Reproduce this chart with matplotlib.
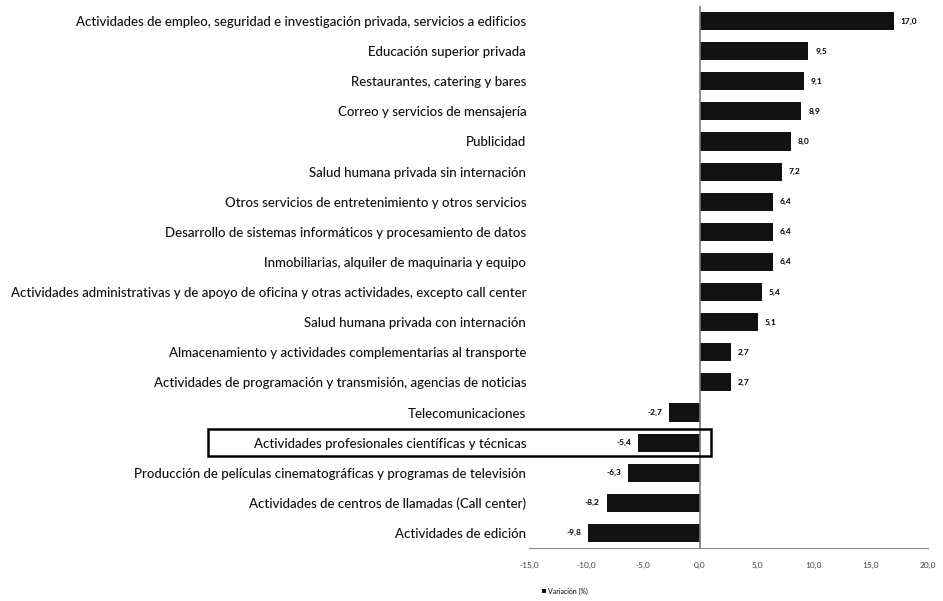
import matplotlib
matplotlib.use("Agg")
import matplotlib.pyplot as plt
from matplotlib.patches import Rectangle

categories = [
    "Actividades de empleo, seguridad e investigación privada, servicios a edificios",
    "Educación superior privada",
    "Restaurantes, catering y bares",
    "Correo y servicios de mensajería",
    "Publicidad",
    "Salud humana privada sin internación",
    "Otros servicios de entretenimiento y otros servicios",
    "Desarrollo de sistemas informáticos y procesamiento de datos",
    "Inmobiliarias, alquiler de maquinaria y equipo",
    "Actividades administrativas y de apoyo de oficina y otras actividades, excepto call center",
    "Salud humana privada con internación",
    "Almacenamiento y actividades complementarias al transporte",
    "Actividades de programación y transmisión, agencias de noticias",
    "Telecomunicaciones",
    "Actividades profesionales científicas y técnicas",
    "Producción de películas cinematográficas y programas de televisión",
    "Actividades de centros de llamadas (Call center)",
    "Actividades de edición",
]
values = [17.0, 9.5, 9.1, 8.9, 8.0, 7.2, 6.4, 6.4, 6.4, 5.4, 5.1, 2.7, 2.7,
          -2.7, -5.4, -6.3, -8.2, -9.8]
xticks = [-15, -10, -5, 0, 5, 10, 15, 20]
highlight = "Actividades profesionales científicas y técnicas"
legend_label = "Variación (%)"

plt.rcParams['font.family'] = ['Lato', 'DejaVu Sans']

fig = plt.figure(figsize=(9.43, 6.01), dpi=100)
ax = fig.add_axes([529/943, 1-548/601, (928-529)/943, (548-6)/601])

n = len(categories)
ypos = list(range(n))[::-1]
bars = ax.barh(ypos, values, height=0.6, color="#111111", label=legend_label, zorder=2)

ax.set_xlim(-15, 20)
ax.set_ylim(-0.5, n - 0.5)
ax.set_xticks(xticks)
ax.set_xticklabels([f"{t:.1f}".replace(".", ",") for t in xticks], fontsize=6, color="#444444")
ax.set_yticks(ypos)
ax.set_yticklabels(categories, fontsize=9.5, color="#111111", fontweight="medium")
ax.tick_params(axis="y", length=0, pad=2)
ax.tick_params(axis="x", length=0, pad=10)

for s in ["top", "right", "left"]:
    ax.spines[s].set_visible(False)
ax.spines["bottom"].set_color("#888888")
ax.axvline(0, color="#777777", lw=1.2, zorder=3)

for y, v in zip(ypos, values):
    lab = f"{v:.1f}".replace(".", ",")
    if v >= 0:
        ax.text(v + 0.6, y, lab, va="center", ha="left", fontsize=6, fontweight="bold")
    else:
        ax.text(v - 0.6, y, lab, va="center", ha="right", fontsize=6, fontweight="bold")

hy = ypos[categories.index(highlight)]
x0 = (208 - 700) / 11.4
ax.add_patch(Rectangle((x0, hy - 0.45), 1.0 - x0, 0.9, fill=False, ec="black",
                       lw=1.8, clip_on=False, zorder=4))

fig.legend(handles=[bars], labels=[legend_label], loc="center", bbox_to_anchor=(565/943, 1-591/601),
           frameon=False, fontsize=5, handlelength=0.6, handleheight=0.6, handletextpad=0.3)

fig.savefig("out.png", dpi=100, facecolor="white")
